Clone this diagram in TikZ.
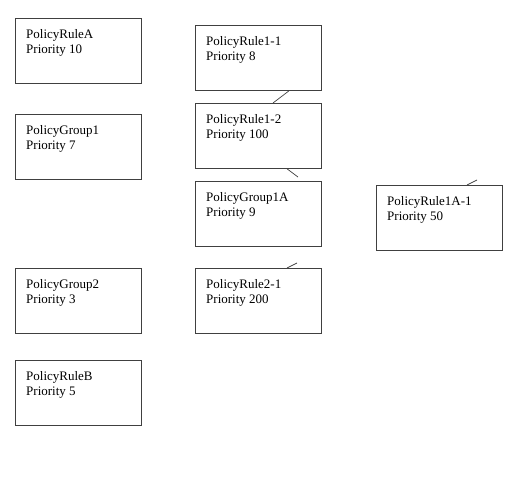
\documentclass[tikz,border=0pt]{standalone}
\usepackage{fontspec}
\setmainfont{Liberation Serif}
\begin{document}
\begin{tikzpicture}[x=1pt,y=-1pt,
  pbox/.style={draw=black!75, line width=0.8pt, minimum width=126pt, minimum height=65pt, inner sep=0pt, anchor=north west},
  ptext/.style={anchor=base west, inner sep=0pt, align=left, font=\fontsize{13}{15}\selectfont},
  link/.style={draw=black!75, line width=0.7pt}]
\useasboundingbox (0,0) rectangle (522,488);
% left column
\node[pbox] (ra) at (15,18) {};
\node[pbox] (g1) at (15,114) {};
\node[pbox] (g2) at (15,268) {};
\node[pbox] (rb) at (15,360) {};
% middle column
\node[pbox] (r11) at (195,25) {};
\node[pbox] (r12) at (195,103) {};
\node[pbox] (g1a) at (195,181) {};
\node[pbox] (r21) at (195,268) {};
% right
\node[pbox] (r1a1) at (376,185) {};
% texts
\foreach \b/\t/\p in {ra/PolicyRuleA/10, g1/PolicyGroup1/7, g2/PolicyGroup2/3, rb/PolicyRuleB/5,
  r11/PolicyRule1-1/8, r12/PolicyRule1-2/100, g1a/PolicyGroup1A/9, r21/PolicyRule2-1/200, r1a1/PolicyRule1A-1/50}{
  \node[ptext] (t\b) at ([shift={(11,35)}]\b.north west) {\t\\Priority \p};
}
% connectors
\coordinate (c1) at ([xshift=94pt]r11.south west);
\coordinate (c2) at ([xshift=78pt]r12.north west);
\coordinate (c3) at ([xshift=92pt]r12.south west);
\coordinate (c4) at (298,177);
\coordinate (c5) at ([xshift=92pt]r21.north west);
\coordinate (c6) at (297,263);
\coordinate (c7) at ([xshift=91pt]r1a1.north west);
\coordinate (c8) at (477,180);
\draw[link] (c1) -- (c2);
\draw[link] (c3) -- (c4);
\draw[link] (c5) -- (c6);
\draw[link] (c7) -- (c8);
\end{tikzpicture}
\end{document}
